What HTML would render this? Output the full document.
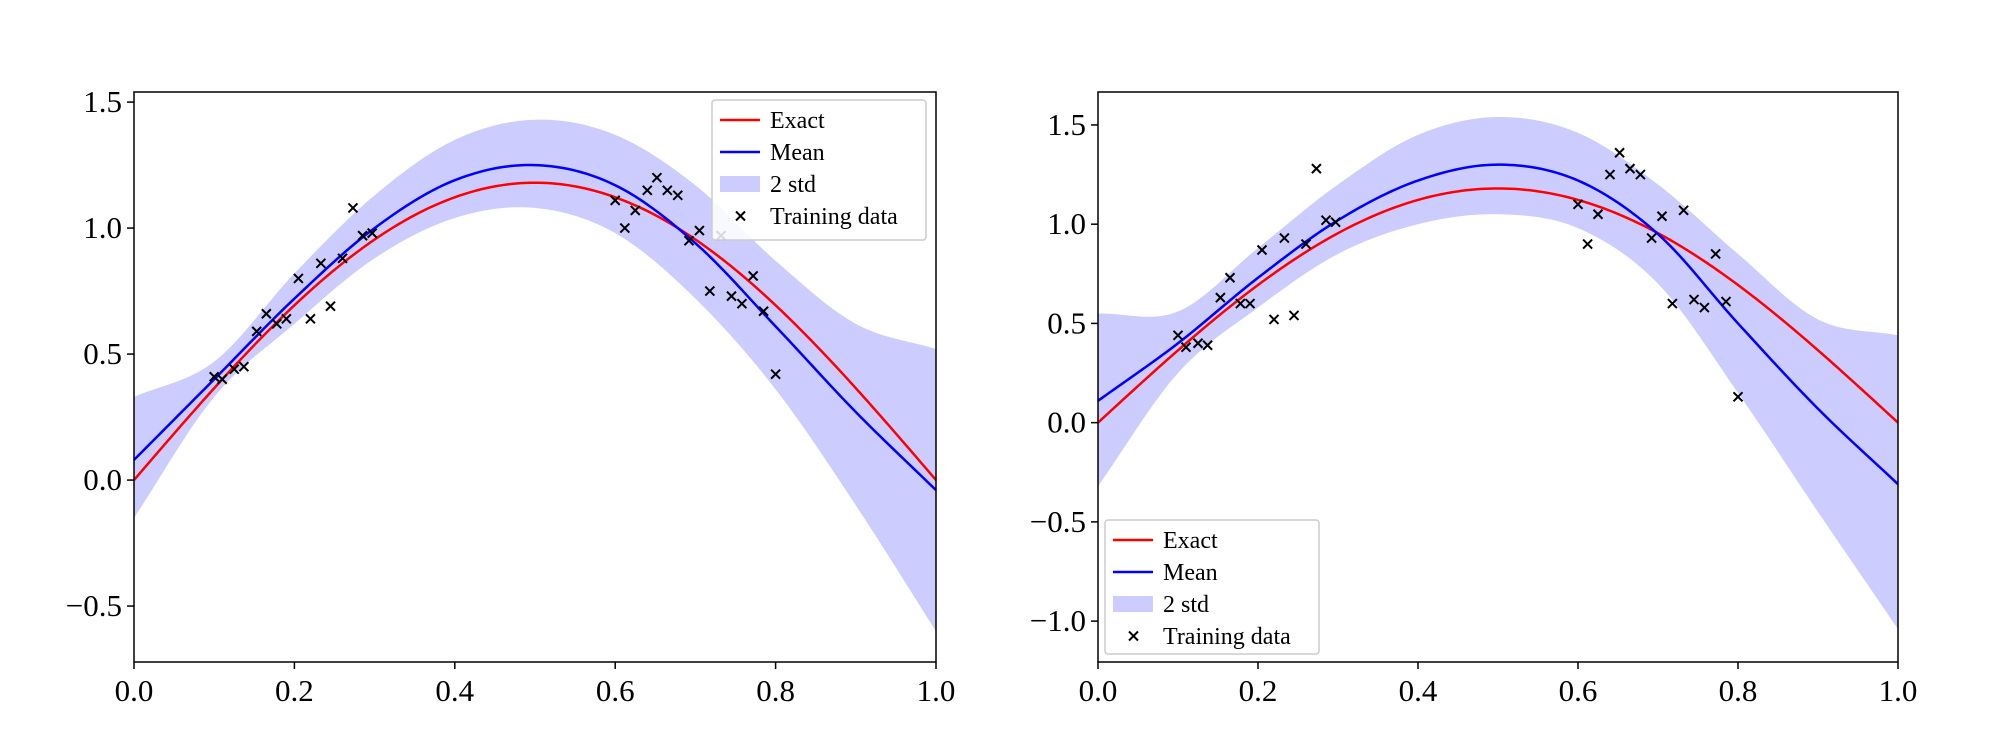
<!DOCTYPE html>
<html><head><meta charset="utf-8"><style>
body{margin:0;background:#fff;}
svg{display:block;font-family:"Liberation Serif",serif;}
</style></head><body>
<svg id="svg" width="2000" height="742"></svg>
<script>
const gridX=[0,0.1,0.2,0.3,0.4,0.5,0.6,0.7,0.8,0.9,1.0];
const leftMean=[0.08,0.40,0.72,1.0,1.19,1.25,1.17,0.94,0.61,0.27,-0.04];
const leftUpper=[0.33,0.47,0.82,1.13,1.35,1.43,1.37,1.17,0.87,0.62,0.52];
const leftLower=[-0.15,0.33,0.62,0.88,1.04,1.08,0.98,0.72,0.36,-0.1,-0.6];
const rightMean=[0.11,0.40,0.73,1.02,1.22,1.30,1.22,0.95,0.50,0.07,-0.31];
const rightUpper=[0.55,0.56,0.88,1.2,1.45,1.54,1.46,1.2,0.85,0.52,0.44];
const rightLower=[-0.32,0.25,0.58,0.85,1.0,1.05,0.98,0.7,0.15,-0.45,-1.04];
const exactAmp=1.18;
const trainX=[0.10,0.11,0.125,0.137,0.153,0.165,0.178,0.19,0.205,0.22,0.233,0.245,0.26,0.273,0.285,0.297,0.60,0.612,0.625,0.64,0.652,0.665,0.678,0.692,0.705,0.718,0.732,0.745,0.758,0.772,0.785,0.80];
const leftTrainY=[0.41,0.40,0.44,0.45,0.59,0.66,0.62,0.64,0.80,0.64,0.86,0.69,0.88,1.08,0.97,0.98,1.11,1.00,1.07,1.15,1.20,1.15,1.13,0.95,0.99,0.75,0.97,0.73,0.70,0.81,0.67,0.42];
const rightTrainY=[0.44,0.38,0.40,0.39,0.63,0.73,0.60,0.60,0.87,0.52,0.93,0.54,0.90,1.28,1.02,1.01,1.10,0.90,1.05,1.25,1.36,1.28,1.25,0.93,1.04,0.60,1.07,0.62,0.58,0.85,0.61,0.13];
const xTicks=[0,0.2,0.4,0.6,0.8,1.0];
const xTickLabels=["0.0","0.2","0.4","0.6","0.8","1.0"];
const leftYTicks=[-0.5,0,0.5,1.0,1.5];
const leftYTickLabels=["\u22120.5","0.0","0.5","1.0","1.5"];
const rightYTicks=[-1.0,-0.5,0,0.5,1.0,1.5];
const rightYTickLabels=["\u22121.0","\u22120.5","0.0","0.5","1.0","1.5"];

const NS="http://www.w3.org/2000/svg";
const svg=document.getElementById('svg');
function mk(tag,attrs,parent){const e=document.createElementNS(NS,tag);for(const k in attrs)e.setAttribute(k,attrs[k]);(parent||svg).appendChild(e);return e;}
function interp(arr,x){
  const n=arr.length-1;let t=x*n;let i=Math.min(Math.floor(t),n-1);const f=t-i;
  const p0=i>0?arr[i-1]:2*arr[0]-arr[1],p1=arr[i],p2=arr[i+1],p3=i+2<=n?arr[i+2]:2*arr[n]-arr[n-1];
  return 0.5*((2*p1)+(-p0+p2)*f+(2*p0-5*p1+4*p2-p3)*f*f+(-p0+3*p1-3*p2+p3)*f*f*f);
}
function panel(o){
  const g=mk('g',{});
  
  
  const sx=x=>o.x0+(x-0)*(o.x1-o.x0);
  const sy=y=>o.y1-(y-o.ymin)/(o.ymax-o.ymin)*(o.y1-o.y0);
  const N=200;
  let up=[],lo=[],mean=[],ex=[];
  for(let i=0;i<=N;i++){const x=i/N;
    up.push(sx(x)+','+sy(interp(o.upper,x)));
    lo.unshift(sx(x)+','+sy(interp(o.lower,x)));
    mean.push(sx(x)+','+sy(interp(o.mean,x)));
    ex.push(sx(x)+','+sy(exactAmp*Math.sin(Math.PI*x)));}
  const band=mk('polygon',{points:up.concat(lo).join(' '),fill:'#ccccff',stroke:'none'},g);
  
  
  const el=mk('polyline',{points:ex.join(' '),fill:'none',stroke:'#ff0000','stroke-width':2.5},g);
  
  
  const ml=mk('polyline',{points:mean.join(' '),fill:'none',stroke:'#0000ff','stroke-width':2.5},g);
  
  
  o.ty.forEach((y,i)=>{const cx=sx(trainX[i]),cy=sy(y),s=4.5;
    const p=mk('path',{d:`M${cx-s},${cy-s}L${cx+s},${cy+s}M${cx-s},${cy+s}L${cx+s},${cy-s}`,stroke:'#000','stroke-width':2},g);
    
    });
  const fr=mk('rect',{x:o.x0,y:o.y0,width:o.x1-o.x0,height:o.y1-o.y0,fill:'none',stroke:'#000','stroke-width':1.5},g);
  
  
  xTicks.forEach((v,i)=>{const x=sx(v);
    mk('line',{x1:x,x2:x,y1:o.y1,y2:o.y1+7,stroke:'#000','stroke-width':1.5},g);
    const t=mk('text',{x:x,y:o.y1+39,'text-anchor':'middle','font-size':31},g);t.textContent=xTickLabels[i];
    
    });
  o.yt.forEach((v,i)=>{const y=sy(v);
    mk('line',{x1:o.x0-7,x2:o.x0,y1:y,y2:y,stroke:'#000','stroke-width':1.5},g);
    const t=mk('text',{x:o.x0-12,y:y+10,'text-anchor':'end','font-size':31},g);t.textContent=o.ytl[i];
    
    });
  const L=o.leg;
  const lg=mk('g',{},g);
  
  
  mk('rect',{x:L.x,y:L.y,width:L.w,height:L.h,fill:'#fff','fill-opacity':0.85,stroke:'#ccc','stroke-width':1.5,rx:3},lg);
  const items=[['Exact','line','#ff0000'],['Mean','line','#0000ff'],['2 std','patch','#ccccff'],['Training data','x','#000']];
  items.forEach((it,i)=>{const y=L.y+20+i*32;const x=L.x+8;
    const e=mk('g',{},lg);
    
    
    if(it[1]=='line')mk('line',{x1:x,x2:x+40,y1:y,y2:y,stroke:it[2],'stroke-width':2.5},e);
    else if(it[1]=='patch')mk('rect',{x:x,y:y-8,width:40,height:16,fill:it[2]},e);
    else mk('path',{d:`M${x+16},${y-4.5}L${x+25},${y+4.5}M${x+16},${y+4.5}L${x+25},${y-4.5}`,stroke:'#000','stroke-width':2},e);
    const t=mk('text',{x:x+50,y:y+8,'font-size':24},e);t.textContent=it[0];});
}
panel({name:'left-chart',x0:134,x1:936,y0:92,y1:662,ymin:-0.722,ymax:1.54,mean:leftMean,upper:leftUpper,lower:leftLower,ty:leftTrainY,yt:leftYTicks,ytl:leftYTickLabels,leg:{x:712,y:100,w:214,h:140}});
panel({name:'right-chart',x0:1098,x1:1898,y0:92,y1:662,ymin:-1.206,ymax:1.666,mean:rightMean,upper:rightUpper,lower:rightLower,ty:rightTrainY,yt:rightYTicks,ytl:rightYTickLabels,leg:{x:1105,y:520,w:214,h:134}});
</script>
</body></html>
